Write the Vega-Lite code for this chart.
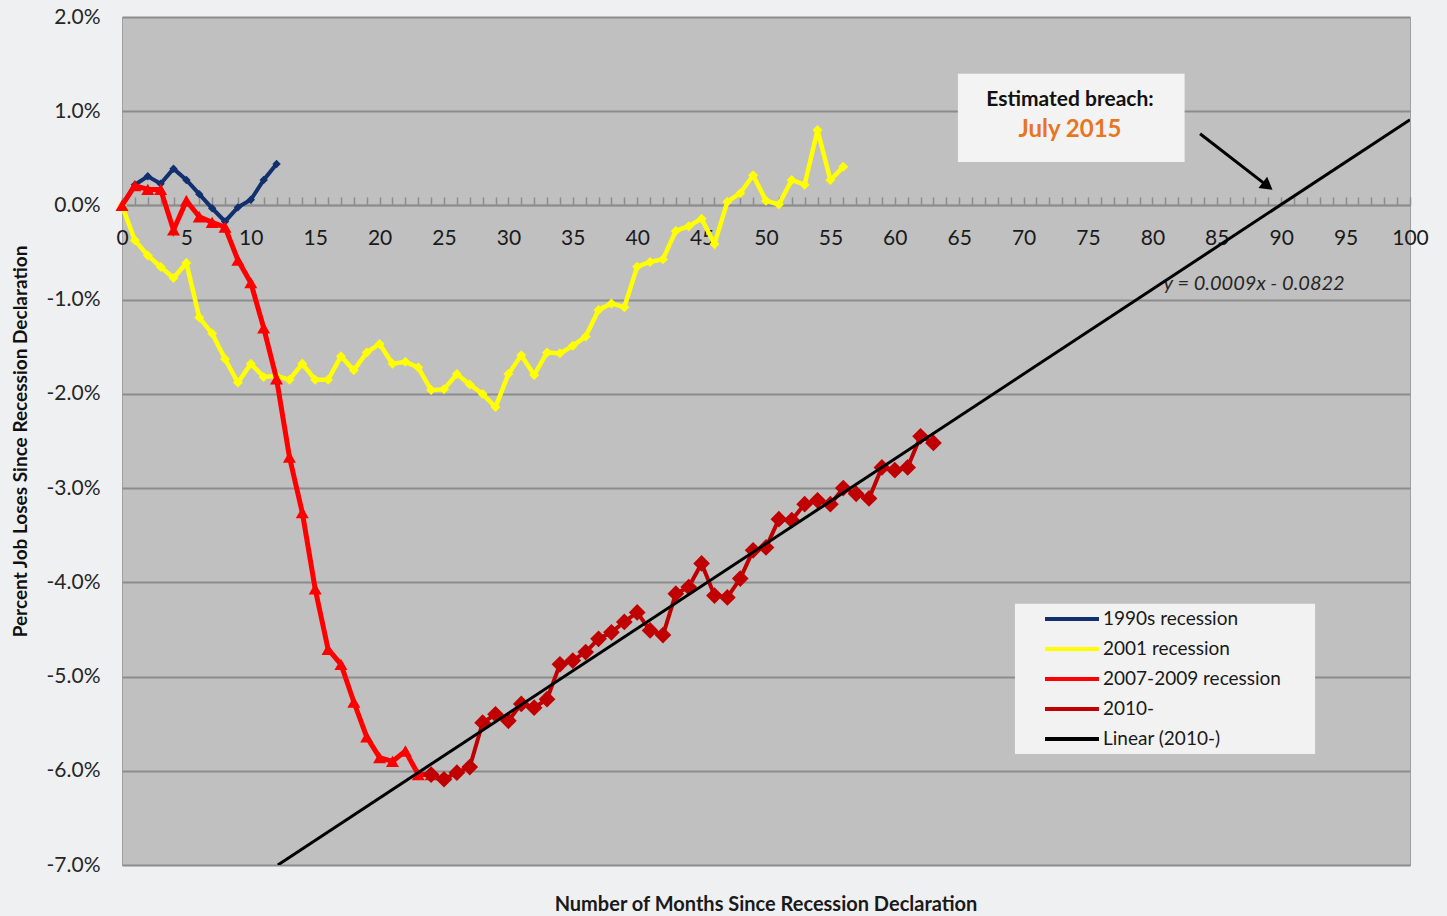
{
  "$schema": "https://vega.github.io/schema/vega-lite/v6.json",
  "width": 1288,
  "height": 848,
  "autosize": "none",
  "padding": {"left": 122, "top": 17, "right": 37, "bottom": 51},
  "background": "#eff0f2",
  "config": {
    "font": "Lato",
    "view": {"fill": "#c0c0c0", "stroke": "#a0a0a0", "strokeWidth": 1}
  },
  "title": {
    "text": "Number of Months Since Recession Declaration",
    "orient": "bottom",
    "anchor": "middle",
    "fontSize": 20,
    "fontWeight": "bold",
    "font": "Lato",
    "color": "#1a1a1a",
    "offset": 20
  },
  "datasets": {
    "jobs": [
      {"s": "1990s recession", "m": 0, "v": 0},
      {"s": "1990s recession", "m": 1, "v": 0.22},
      {"s": "1990s recession", "m": 2, "v": 0.31},
      {"s": "1990s recession", "m": 3, "v": 0.23},
      {"s": "1990s recession", "m": 4, "v": 0.39},
      {"s": "1990s recession", "m": 5, "v": 0.27},
      {"s": "1990s recession", "m": 6, "v": 0.12},
      {"s": "1990s recession", "m": 7, "v": -0.03},
      {"s": "1990s recession", "m": 8, "v": -0.17},
      {"s": "1990s recession", "m": 9, "v": -0.02},
      {"s": "1990s recession", "m": 10, "v": 0.06},
      {"s": "1990s recession", "m": 11, "v": 0.27},
      {"s": "1990s recession", "m": 12, "v": 0.44},
      {"s": "2001 recession", "m": 0, "v": 0},
      {"s": "2001 recession", "m": 1, "v": -0.37},
      {"s": "2001 recession", "m": 2, "v": -0.53},
      {"s": "2001 recession", "m": 3, "v": -0.65},
      {"s": "2001 recession", "m": 4, "v": -0.77},
      {"s": "2001 recession", "m": 5, "v": -0.61},
      {"s": "2001 recession", "m": 6, "v": -1.19},
      {"s": "2001 recession", "m": 7, "v": -1.36},
      {"s": "2001 recession", "m": 8, "v": -1.63},
      {"s": "2001 recession", "m": 9, "v": -1.88},
      {"s": "2001 recession", "m": 10, "v": -1.68},
      {"s": "2001 recession", "m": 11, "v": -1.82},
      {"s": "2001 recession", "m": 12, "v": -1.81},
      {"s": "2001 recession", "m": 13, "v": -1.85},
      {"s": "2001 recession", "m": 14, "v": -1.68},
      {"s": "2001 recession", "m": 15, "v": -1.85},
      {"s": "2001 recession", "m": 16, "v": -1.85},
      {"s": "2001 recession", "m": 17, "v": -1.6},
      {"s": "2001 recession", "m": 18, "v": -1.75},
      {"s": "2001 recession", "m": 19, "v": -1.56},
      {"s": "2001 recession", "m": 20, "v": -1.47},
      {"s": "2001 recession", "m": 21, "v": -1.68},
      {"s": "2001 recession", "m": 22, "v": -1.66},
      {"s": "2001 recession", "m": 23, "v": -1.72},
      {"s": "2001 recession", "m": 24, "v": -1.96},
      {"s": "2001 recession", "m": 25, "v": -1.95},
      {"s": "2001 recession", "m": 26, "v": -1.79},
      {"s": "2001 recession", "m": 27, "v": -1.9},
      {"s": "2001 recession", "m": 28, "v": -2.0},
      {"s": "2001 recession", "m": 29, "v": -2.14},
      {"s": "2001 recession", "m": 30, "v": -1.79},
      {"s": "2001 recession", "m": 31, "v": -1.59},
      {"s": "2001 recession", "m": 32, "v": -1.8},
      {"s": "2001 recession", "m": 33, "v": -1.56},
      {"s": "2001 recession", "m": 34, "v": -1.57},
      {"s": "2001 recession", "m": 35, "v": -1.49},
      {"s": "2001 recession", "m": 36, "v": -1.39},
      {"s": "2001 recession", "m": 37, "v": -1.11},
      {"s": "2001 recession", "m": 38, "v": -1.04},
      {"s": "2001 recession", "m": 39, "v": -1.08},
      {"s": "2001 recession", "m": 40, "v": -0.65},
      {"s": "2001 recession", "m": 41, "v": -0.6},
      {"s": "2001 recession", "m": 42, "v": -0.57},
      {"s": "2001 recession", "m": 43, "v": -0.27},
      {"s": "2001 recession", "m": 44, "v": -0.22},
      {"s": "2001 recession", "m": 45, "v": -0.14},
      {"s": "2001 recession", "m": 46, "v": -0.41},
      {"s": "2001 recession", "m": 47, "v": 0.04},
      {"s": "2001 recession", "m": 48, "v": 0.13},
      {"s": "2001 recession", "m": 49, "v": 0.32},
      {"s": "2001 recession", "m": 50, "v": 0.05},
      {"s": "2001 recession", "m": 51, "v": 0.01},
      {"s": "2001 recession", "m": 52, "v": 0.27},
      {"s": "2001 recession", "m": 53, "v": 0.22},
      {"s": "2001 recession", "m": 54, "v": 0.8},
      {"s": "2001 recession", "m": 55, "v": 0.27},
      {"s": "2001 recession", "m": 56, "v": 0.41},
      {"s": "2007-2009 recession", "m": 0, "v": 0},
      {"s": "2007-2009 recession", "m": 1, "v": 0.21},
      {"s": "2007-2009 recession", "m": 2, "v": 0.17},
      {"s": "2007-2009 recession", "m": 3, "v": 0.17},
      {"s": "2007-2009 recession", "m": 4, "v": -0.26},
      {"s": "2007-2009 recession", "m": 5, "v": 0.05},
      {"s": "2007-2009 recession", "m": 6, "v": -0.12},
      {"s": "2007-2009 recession", "m": 7, "v": -0.18},
      {"s": "2007-2009 recession", "m": 8, "v": -0.23},
      {"s": "2007-2009 recession", "m": 9, "v": -0.58},
      {"s": "2007-2009 recession", "m": 10, "v": -0.82},
      {"s": "2007-2009 recession", "m": 11, "v": -1.3},
      {"s": "2007-2009 recession", "m": 12, "v": -1.84},
      {"s": "2007-2009 recession", "m": 13, "v": -2.67},
      {"s": "2007-2009 recession", "m": 14, "v": -3.26},
      {"s": "2007-2009 recession", "m": 15, "v": -4.07},
      {"s": "2007-2009 recession", "m": 16, "v": -4.71},
      {"s": "2007-2009 recession", "m": 17, "v": -4.87},
      {"s": "2007-2009 recession", "m": 18, "v": -5.27},
      {"s": "2007-2009 recession", "m": 19, "v": -5.64},
      {"s": "2007-2009 recession", "m": 20, "v": -5.86},
      {"s": "2007-2009 recession", "m": 21, "v": -5.9},
      {"s": "2007-2009 recession", "m": 22, "v": -5.79},
      {"s": "2007-2009 recession", "m": 23, "v": -6.04},
      {"s": "2007-2009 recession", "m": 24, "v": -6.04},
      {"s": "2010-", "m": 24, "v": -6.04},
      {"s": "2010-", "m": 25, "v": -6.09},
      {"s": "2010-", "m": 26, "v": -6.02},
      {"s": "2010-", "m": 27, "v": -5.96},
      {"s": "2010-", "m": 28, "v": -5.49},
      {"s": "2010-", "m": 29, "v": -5.4},
      {"s": "2010-", "m": 30, "v": -5.47},
      {"s": "2010-", "m": 31, "v": -5.29},
      {"s": "2010-", "m": 32, "v": -5.33},
      {"s": "2010-", "m": 33, "v": -5.24},
      {"s": "2010-", "m": 34, "v": -4.87},
      {"s": "2010-", "m": 35, "v": -4.83},
      {"s": "2010-", "m": 36, "v": -4.74},
      {"s": "2010-", "m": 37, "v": -4.6},
      {"s": "2010-", "m": 38, "v": -4.53},
      {"s": "2010-", "m": 39, "v": -4.42},
      {"s": "2010-", "m": 40, "v": -4.32},
      {"s": "2010-", "m": 41, "v": -4.51},
      {"s": "2010-", "m": 42, "v": -4.56},
      {"s": "2010-", "m": 43, "v": -4.12},
      {"s": "2010-", "m": 44, "v": -4.05},
      {"s": "2010-", "m": 45, "v": -3.8},
      {"s": "2010-", "m": 46, "v": -4.14},
      {"s": "2010-", "m": 47, "v": -4.16},
      {"s": "2010-", "m": 48, "v": -3.96},
      {"s": "2010-", "m": 49, "v": -3.66},
      {"s": "2010-", "m": 50, "v": -3.63},
      {"s": "2010-", "m": 51, "v": -3.33},
      {"s": "2010-", "m": 52, "v": -3.34},
      {"s": "2010-", "m": 53, "v": -3.17},
      {"s": "2010-", "m": 54, "v": -3.13},
      {"s": "2010-", "m": 55, "v": -3.17},
      {"s": "2010-", "m": 56, "v": -3.0},
      {"s": "2010-", "m": 57, "v": -3.06},
      {"s": "2010-", "m": 58, "v": -3.11},
      {"s": "2010-", "m": 59, "v": -2.78},
      {"s": "2010-", "m": 60, "v": -2.81},
      {"s": "2010-", "m": 61, "v": -2.78},
      {"s": "2010-", "m": 62, "v": -2.45},
      {"s": "2010-", "m": 63, "v": -2.52},
      {"s": "Linear (2010-)", "m": 12.1, "v": -7.0},
      {"s": "Linear (2010-)", "m": 100, "v": 0.91}
    ]
  },
  "layer": [
    {
      "data": {"values": [{}]},
      "mark": {"type": "rect", "fill": "#f2f2f2"},
      "encoding": {
        "x": {"datum": 69.33, "type": "quantitative"},
        "x2": {"datum": 92.63},
        "y": {"datum": -4.228, "type": "quantitative"},
        "y2": {"datum": -5.822}
      }
    },
    {
      "data": {"values": [{}]},
      "mark": {"type": "rect", "fill": "#f3f3f3"},
      "encoding": {
        "x": {"datum": 64.9, "type": "quantitative"},
        "x2": {"datum": 82.5},
        "y": {"datum": 1.398, "type": "quantitative"},
        "y2": {"datum": 0.46}
      }
    },
    {
      "data": {"values": [{}]},
      "mark": {"type": "text", "text": "y = 0.0009x - 0.0822", "fontSize": 20, "fontStyle": "italic", "color": "#262626", "font": "Lato"},
      "encoding": {
        "x": {"datum": 87.9, "type": "quantitative"},
        "y": {"datum": -0.83, "type": "quantitative"}
      }
    },
    {
      "data": {"name": "jobs"},
      "transform": [{"filter": "datum.s === '1990s recession'"}],
      "mark": {"type": "line", "strokeWidth": 4, "point": {"shape": "diamond", "size": 70, "filled": true}},
      "encoding": {
        "x": {
          "field": "m", "type": "quantitative", "title": null,
          "scale": {"domain": [0, 100], "nice": false, "zero": false},
          "axis": {
            "orient": "bottom", "offset": -660,
            "values": [0,1,2,3,4,5,6,7,8,9,10,11,12,13,14,15,16,17,18,19,20,21,22,23,24,25,26,27,28,29,30,31,32,33,34,35,36,37,38,39,40,41,42,43,44,45,46,47,48,49,50,51,52,53,54,55,56,57,58,59,60,61,62,63,64,65,66,67,68,69,70,71,72,73,74,75,76,77,78,79,80,81,82,83,84,85,86,87,88,89,90,91,92,93,94,95,96,97,98,99,100],
            "tickCount": 500,
            "labelExpr": "datum.value % 5 === 0 ? format(datum.value, 'd') : ''",
            "labelOverlap": false, "labelFlush": false,
            "labelFontSize": 21, "labelColor": "#1a1a1a", "labelFont": "Lato",
            "labelPadding": 30,
            "grid": false,
            "domainColor": "#8c8c8c", "domainWidth": 1.5,
            "tickColor": "#8c8c8c", "tickSize": -8, "tickWidth": 1.5
          }
        },
        "y": {
          "field": "v", "type": "quantitative", "title": "Percent Job Loses  Since Recession Declaration",
          "scale": {"domain": [-7, 2], "nice": false, "zero": false},
          "axis": {
            "values": [-7, -6, -5, -4, -3, -2, -1, 0, 1, 2],
            "labelExpr": "(datum.value < 0 ? '-' : '') + format(abs(datum.value), '.1f') + '%'",
            "labelFontSize": 21, "labelColor": "#262626", "labelFont": "Lato",
            "labelPadding": 22, "ticks": false, "domain": false,
            "grid": true, "gridColor": "#8c8c8c", "gridWidth": 2,
            "titleFontSize": 19, "titleFontWeight": "bold", "titleFont": "Lato", "titleColor": "#111111",
            "titleX": -102, "titleY": 424, "titleAngle": -90, "titleAlign": "center", "titleBaseline": "middle"
          }
        },
        "color": {
          "field": "s", "type": "nominal",
          "scale": {"domain": ["1990s recession", "2001 recession", "2007-2009 recession", "2010-", "Linear (2010-)"], "range": ["#12306e", "#ffff00", "#ff0000", "#c00000", "#000000"]},
          "legend": {"orient": "none", "legendX": 939, "legendY": 591, "title": null, "symbolType": "M-3,0H3", "symbolSize": 324, "symbolStrokeWidth": 4, "labelFontSize": 19, "labelFont": "Lato", "labelColor": "#1a1a1a", "labelOffset": 20, "labelLimit": 400, "rowPadding": 9, "padding": 0}
        }
      }
    },
    {
      "data": {"name": "jobs"},
      "transform": [{"filter": "datum.s === '2001 recession'"}],
      "mark": {"type": "line", "strokeWidth": 4.5, "point": {"shape": "diamond", "size": 100, "filled": true}},
      "encoding": {
        "x": {"field": "m", "type": "quantitative", "title": null},
        "y": {"field": "v", "type": "quantitative"},
        "color": {
          "field": "s", "type": "nominal",
          "scale": {"domain": ["1990s recession", "2001 recession", "2007-2009 recession", "2010-", "Linear (2010-)"], "range": ["#12306e", "#ffff00", "#ff0000", "#c00000", "#000000"]},
          "legend": {"orient": "none", "legendX": 939, "legendY": 591, "title": null, "symbolType": "M-3,0H3", "symbolSize": 324, "symbolStrokeWidth": 4, "labelFontSize": 19, "labelFont": "Lato", "labelColor": "#1a1a1a", "labelOffset": 20, "labelLimit": 400, "rowPadding": 9, "padding": 0}
        }
      }
    },
    {
      "data": {"name": "jobs"},
      "transform": [{"filter": "datum.s === '2007-2009 recession'"}],
      "mark": {"type": "line", "strokeWidth": 5, "point": {"shape": "triangle-up", "size": 170, "filled": true}},
      "encoding": {
        "x": {"field": "m", "type": "quantitative", "title": null},
        "y": {"field": "v", "type": "quantitative"},
        "color": {
          "field": "s", "type": "nominal",
          "scale": {"domain": ["1990s recession", "2001 recession", "2007-2009 recession", "2010-", "Linear (2010-)"], "range": ["#12306e", "#ffff00", "#ff0000", "#c00000", "#000000"]},
          "legend": {"orient": "none", "legendX": 939, "legendY": 591, "title": null, "symbolType": "M-3,0H3", "symbolSize": 324, "symbolStrokeWidth": 4, "labelFontSize": 19, "labelFont": "Lato", "labelColor": "#1a1a1a", "labelOffset": 20, "labelLimit": 400, "rowPadding": 9, "padding": 0}
        }
      }
    },
    {
      "data": {"name": "jobs"},
      "transform": [{"filter": "datum.s === '2010-'"}],
      "mark": {"type": "line", "strokeWidth": 4, "point": {"shape": "diamond", "size": 280, "filled": true}},
      "encoding": {
        "x": {"field": "m", "type": "quantitative", "title": null},
        "y": {"field": "v", "type": "quantitative"},
        "color": {
          "field": "s", "type": "nominal",
          "scale": {"domain": ["1990s recession", "2001 recession", "2007-2009 recession", "2010-", "Linear (2010-)"], "range": ["#12306e", "#ffff00", "#ff0000", "#c00000", "#000000"]},
          "legend": {"orient": "none", "legendX": 939, "legendY": 591, "title": null, "symbolType": "M-3,0H3", "symbolSize": 324, "symbolStrokeWidth": 4, "labelFontSize": 19, "labelFont": "Lato", "labelColor": "#1a1a1a", "labelOffset": 20, "labelLimit": 400, "rowPadding": 9, "padding": 0}
        }
      }
    },
    {
      "data": {"name": "jobs"},
      "transform": [{"filter": "datum.s === 'Linear (2010-)'"}],
      "mark": {"type": "line", "strokeWidth": 3, "clip": true},
      "encoding": {
        "x": {"field": "m", "type": "quantitative", "title": null},
        "y": {"field": "v", "type": "quantitative"},
        "color": {
          "field": "s", "type": "nominal",
          "scale": {"domain": ["1990s recession", "2001 recession", "2007-2009 recession", "2010-", "Linear (2010-)"], "range": ["#12306e", "#ffff00", "#ff0000", "#c00000", "#000000"]},
          "legend": {"orient": "none", "legendX": 939, "legendY": 591, "title": null, "symbolType": "M-3,0H3", "symbolSize": 324, "symbolStrokeWidth": 4, "labelFontSize": 19, "labelFont": "Lato", "labelColor": "#1a1a1a", "labelOffset": 20, "labelLimit": 400, "rowPadding": 9, "padding": 0}
        }
      }
    },
    {
      "data": {"values": [{}]},
      "mark": {"type": "rule", "color": "#000000", "strokeWidth": 3},
      "encoding": {
        "x": {"datum": 83.7, "type": "quantitative"},
        "x2": {"datum": 88.95},
        "y": {"datum": 0.761, "type": "quantitative"},
        "y2": {"datum": 0.205}
      }
    },
    {
      "data": {"values": [{}]},
      "mark": {"type": "point", "shape": "triangle-right", "size": 200, "filled": true, "color": "#000000", "opacity": 1, "angle": 37.7},
      "encoding": {
        "x": {"datum": 88.95, "type": "quantitative"},
        "y": {"datum": 0.205, "type": "quantitative"}
      }
    },
    {
      "data": {"values": [{}]},
      "mark": {"type": "text", "text": "Estimated breach:", "fontSize": 21, "fontWeight": "bold", "color": "#111111", "font": "Lato"},
      "encoding": {
        "x": {"datum": 73.6, "type": "quantitative"},
        "y": {"datum": 1.12, "type": "quantitative"}
      }
    },
    {
      "data": {"values": [{}]},
      "mark": {"type": "text", "text": "July 2015", "fontSize": 24, "fontWeight": "bold", "color": "#e8751f", "font": "Lato"},
      "encoding": {
        "x": {"datum": 73.6, "type": "quantitative"},
        "y": {"datum": 0.80, "type": "quantitative"}
      }
    }
  ]
}
